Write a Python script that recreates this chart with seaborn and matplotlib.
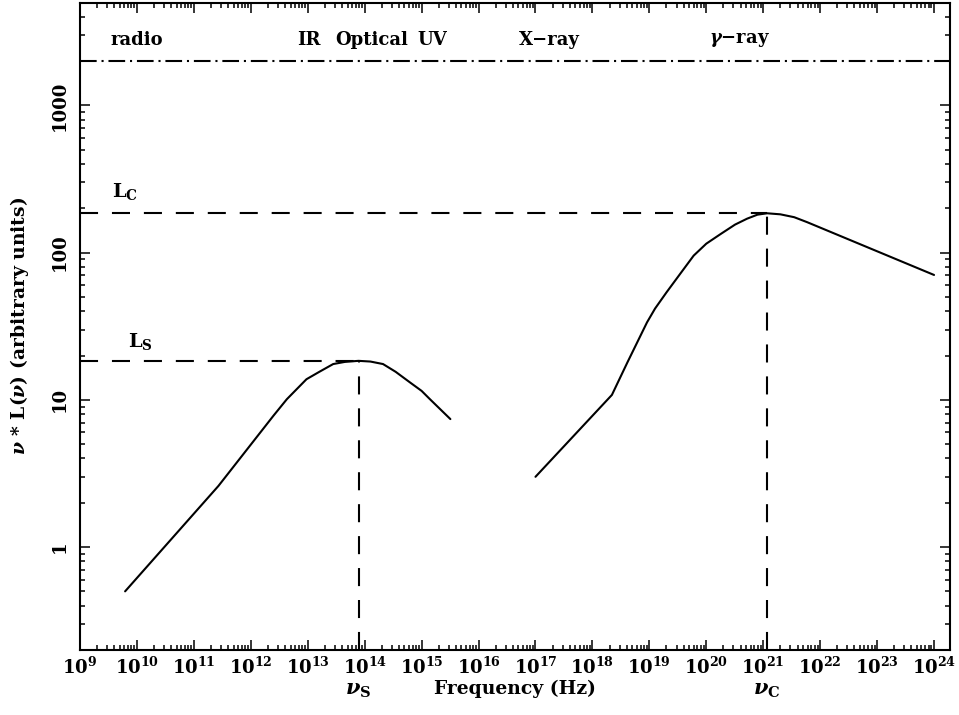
import numpy as np
import matplotlib
matplotlib.use("Agg")
import matplotlib.pyplot as plt
import matplotlib.ticker as mticker
import seaborn as sns

# synchrotron bump
sync_freq = [6.2e9, 2.7e11, 2.5e12, 4.3e12, 9.5e12, 1.6e13, 2.8e13, 4.5e13, 7.8e13,
             1.26e14, 2.1e14, 3.5e14, 6.3e14, 1.0e15, 1.4e15, 3.2e15]
sync_lum = [0.50, 2.6, 7.8, 10.1, 13.8, 15.5, 17.5, 18.1, 18.4,
            18.2, 17.5, 15.5, 13.1, 11.5, 10.1, 7.4]

# inverse compton bump
comp_freq = [1.0e17, 2.2e18, 4.1e18, 9.1e18, 1.26e19, 2.0e19, 3.5e19, 6.0e19, 1.0e20,
             1.8e20, 3.2e20, 5.2e20, 7.9e20, 1.17e21, 2.0e21, 3.5e21, 5.9e21, 1.0e24]
comp_lum = [3.0, 10.8, 17.9, 33.6, 41.7, 53.7, 72, 95.4, 115,
            134, 155, 170, 181, 185, 182, 174, 161, 70.5]

band_names = ["radio", "IR", "Optical", "UV", "X\u2212ray", "$\\gamma$\u2212ray"]
band_freq = [3.4e9, 6.5e12, 3.1e13, 8.5e14, 5.2e16, 1.1e20]
band_y = 2800
band_line = 2000

sns.set_style("ticks")
plt.rcParams["font.family"] = ["DejaVu Serif"]
plt.rcParams["font.weight"] = "bold"
plt.rcParams["mathtext.fontset"] = "custom"
plt.rcParams["mathtext.rm"] = "DejaVu Serif:bold"
plt.rcParams["mathtext.it"] = "DejaVu Serif:italic:bold"
plt.rcParams["mathtext.bf"] = "DejaVu Serif:bold"
plt.rcParams["lines.scale_dashes"] = False
for k in ["text.color", "axes.labelcolor", "xtick.color", "ytick.color", "axes.edgecolor"]:
    plt.rcParams[k] = "black"

fig = plt.figure(figsize=(9.59, 7.15), dpi=100)
ax = fig.add_axes([0.0834, 0.091, 0.9072, 0.9055])

sns.lineplot(x=sync_freq, y=sync_lum, ax=ax, color="black", lw=1.5)
sns.lineplot(x=comp_freq, y=comp_lum, ax=ax, color="black", lw=1.5)
ax.set_xscale("log")
ax.set_yscale("log")
ax.set_xlim(1e9, 10**24.28)
ax.set_ylim(0.2, 5000)

# peaks
i_s = int(np.argmax(sync_lum))
i_c = int(np.argmax(comp_lum))
nu_s, L_s = sync_freq[i_s], sync_lum[i_s]
nu_c, L_c = comp_freq[i_c], comp_lum[i_c]
dash = (0, (13, 10))
for nu, L in [(nu_s, L_s), (nu_c, L_c)]:
    ax.plot([1e9, nu], [L, L], color="black", lw=1.5, linestyle=dash)
    ax.plot([nu, nu], [0.2, L], color="black", lw=1.5, linestyle=dash)

ax.axhline(band_line, color="black", lw=1.5, linestyle=(0, (12, 3.5, 1.5, 3.5)))
for name, f in zip(band_names, band_freq):
    ax.text(f, band_y, name, ha="left", va="center", fontsize=13, fontweight="bold")

ax.text(3.6e9, 260, r"L$_\mathrm{C}$", ha="left", va="center", fontsize=14)
ax.text(6.9e9, 25, r"L$_\mathrm{S}$", ha="left", va="center", fontsize=14)

trans = ax.get_xaxis_transform()
ax.text(nu_s, -0.062, r"$\nu_\mathrm{S}$", transform=trans, ha="center", va="center", fontsize=15)
ax.text(nu_c, -0.062, r"$\nu_\mathrm{C}$", transform=trans, ha="center", va="center", fontsize=15)

ax.set_xlabel("Frequency (Hz)", fontsize=13.5, fontweight="bold", labelpad=1)
ax.set_ylabel(r"$\nu$ * L($\nu$) (arbitrary units)", fontsize=13.5, fontweight="bold", labelpad=14)

ax.xaxis.set_major_locator(mticker.LogLocator(base=10, numticks=100))
ax.xaxis.set_minor_locator(mticker.LogLocator(base=10, subs=np.arange(2, 10), numticks=100))
ax.yaxis.set_major_locator(mticker.FixedLocator([1, 10, 100, 1000]))
ax.yaxis.set_major_formatter(mticker.FixedFormatter(["1", "10", "100", "1000"]))
ax.yaxis.set_minor_locator(mticker.LogLocator(base=10, subs=np.arange(2, 10), numticks=100))
ax.yaxis.set_minor_formatter(mticker.NullFormatter())

ax.tick_params(which="both", direction="in", top=True, right=True, width=1.1, colors="black")
ax.tick_params(which="major", length=7)
ax.tick_params(which="minor", length=3.5)
ax.tick_params(axis="x", labelsize=13, pad=5)
ax.tick_params(axis="y", labelsize=13, pad=8)
for lab in ax.get_yticklabels():
    lab.set_rotation(90)
    lab.set_va("center")
for s in ax.spines.values():
    s.set_linewidth(1.5)
    s.set_color("black")

fig.savefig("out.png", dpi=100)
